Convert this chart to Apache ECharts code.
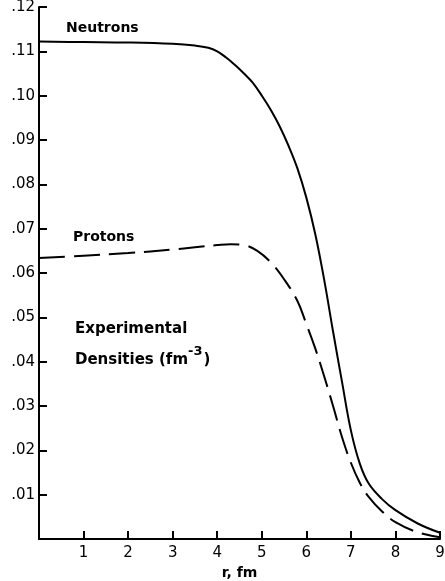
<!DOCTYPE html>
<html>
<head>
<meta charset="utf-8">
<script src="https://cdn.jsdelivr.net/npm/echarts@6/dist/echarts.min.js"></script>
<style>
  html, body { margin: 0; padding: 0; background: #fff; }
  #chart { width: 445px; height: 581px; }
</style>
</head>
<body>
<div id="chart"></div>
<script>
// r in fm, densities in fm^-3
var neutronR = [0, 1, 2, 3, 3.5, 3.8, 4.0, 4.2, 4.4, 4.6, 4.8, 5.0, 5.2, 5.4, 5.6, 5.8, 6.0, 6.2, 6.4, 6.6, 6.8, 7.0, 7.2, 7.4, 7.7, 8.0, 8.5, 9.0];
var neutronRho = [0.1122, 0.1121, 0.1120, 0.1117, 0.1113, 0.1108, 0.1100, 0.1086, 0.1069, 0.1050, 0.1029, 0.1000, 0.0968, 0.0931, 0.0887, 0.0836, 0.0770, 0.0688, 0.0585, 0.0468, 0.0355, 0.0245, 0.0170, 0.0125, 0.0090, 0.0065, 0.0035, 0.0014];

var protonR = [0, 1, 2, 3, 3.5, 4, 4.3, 4.6, 4.9, 5.2, 5.5, 5.8, 6.0, 6.2, 6.4, 6.6, 6.8, 7.0, 7.2, 7.4, 7.7, 8.0, 8.5, 9.0];
var protonRho = [0.0634, 0.0639, 0.0645, 0.0653, 0.0658, 0.0663, 0.0665, 0.0663, 0.0650, 0.0624, 0.0586, 0.0537, 0.0485, 0.0430, 0.0367, 0.0300, 0.0230, 0.0172, 0.0127, 0.0095, 0.0062, 0.0038, 0.0015, 0.0004];

var xTicks = ['', '1', '2', '3', '4', '5', '6', '7', '8', '9'];
var yTicks = ['', '.01', '.02', '.03', '.04', '.05', '.06', '.07', '.08', '.09', '.10', '.11', '.12'];

function pairs(xs, ys) {
    var out = [];
    for (var i = 0; i < xs.length; i++) {
        out.push([xs[i], ys[i]]);
    }
    return out;
}

var font = 'DejaVu Sans';
var myChart = echarts.init(document.getElementById('chart'));

var option = {
    animation: false,
    backgroundColor: '#fff',
    grid: { left: 39, right: 5, top: 7, bottom: 42, containLabel: false, outerBoundsMode: 'none' },
    xAxis: {
        type: 'value',
        min: 0, max: 9, interval: 1,
        name: 'r, fm',
        nameLocation: 'middle',
        nameGap: 27,
        nameTextStyle: { color: '#000', fontFamily: font, fontSize: 14, fontWeight: 'bold' },
        axisLine: { lineStyle: { color: '#000', width: 2 } },
        axisTick: { inside: true, length: 8, lineStyle: { color: '#000', width: 2 } },
        axisLabel: {
            color: '#000', fontFamily: font, fontSize: 15, margin: 7,
            formatter: function (v) { return xTicks[Math.round(v)]; }
        },
        splitLine: { show: false }
    },
    yAxis: {
        type: 'value',
        min: 0, max: 0.12, interval: 0.01,
        axisLine: { show: true, lineStyle: { color: '#000', width: 2 } },
        axisTick: { show: true, inside: true, length: 8, lineStyle: { color: '#000', width: 2 } },
        axisLabel: {
            color: '#000', fontFamily: font, fontSize: 15, margin: 4,
            formatter: function (v) { return yTicks[Math.round(v * 100)]; }
        },
        splitLine: { show: false }
    },
    series: [
        {
            name: 'Neutrons',
            type: 'line',
            data: pairs(neutronR, neutronRho),
            smooth: 0.4,
            showSymbol: false,
            lineStyle: { color: '#000', width: 2 }
        },
        {
            name: 'Protons',
            type: 'line',
            data: pairs(protonR, protonRho),
            smooth: 0.4,
            showSymbol: false,
            lineStyle: { color: '#000', width: 2, type: [26, 9] }
        }
    ],
    graphic: [
        {
            type: 'text', left: 66, top: 21,
            style: { text: 'Neutrons', fill: '#000', font: 'bold 14px "DejaVu Sans"' }
        },
        {
            type: 'text', left: 73, top: 230,
            style: { text: 'Protons', fill: '#000', font: 'bold 14px "DejaVu Sans"' }
        },
        {
            type: 'text', left: 75, top: 322,
            style: { text: 'Experimental', fill: '#000', font: 'bold 15px "DejaVu Sans"' }
        },
        {
            type: 'text', left: 75, top: 345,
            style: {
                text: '{b|Densities (fm}{s|-3}{b|)}',
                fill: '#000',
                rich: {
                    b: { fontFamily: font, fontSize: 15, fontWeight: 'bold', fill: '#000', verticalAlign: 'bottom' },
                    s: { fontFamily: font, fontSize: 13, fontWeight: 'bold', fill: '#000', verticalAlign: 'top', padding: [0, 1, 10, 0] }
                }
            }
        }
    ]
};

myChart.setOption(option);
</script>
</body>
</html>
